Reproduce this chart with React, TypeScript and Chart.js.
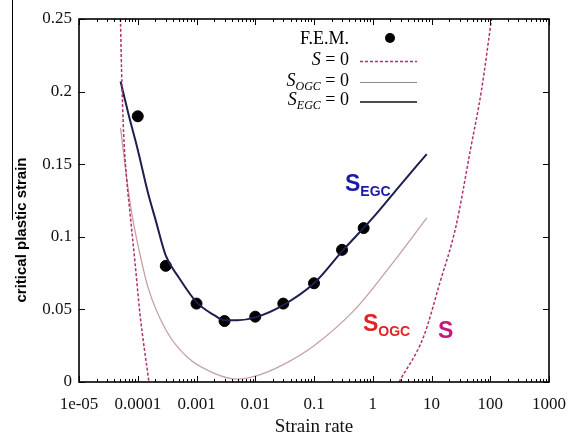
import React, { useEffect, useRef } from 'react';
import { Chart, registerables } from 'chart.js';
Chart.register(...registerables);

// ---- data ----
const xTickValues = [1e-5, 1e-4, 1e-3, 1e-2, 1e-1, 1, 10, 100, 1000];
const xTickLabels = ['1e-05', '0.0001', '0.001', '0.01', '0.1', '1', '10', '100', '1000'];
const yTickValues = [0, 0.05, 0.1, 0.15, 0.2, 0.25];
const yTickLabels = ['0', '0.05', '0.1', '0.15', '0.2', '0.25'];

const femRate = [1e-4, 3e-4, 1e-3, 3e-3, 1e-2, 3e-2, 0.1, 0.3, 0.7];
const femStrain = [0.183, 0.080, 0.054, 0.042, 0.045, 0.054, 0.068, 0.091, 0.106];

const sLeftRate = [5.08e-5, 5.3e-5, 5.75e-5, 6.5e-5, 7.4e-5, 9.0e-5, 1.09e-4, 1.55e-4];
const sLeftStrain = [0.25, 0.215, 0.171, 0.139, 0.116, 0.082, 0.047, 0.0];
const sRightRate = [2.8, 7.3, 13.8, 26, 46, 71, 105];
const sRightStrain = [0.0, 0.031, 0.068, 0.107, 0.160, 0.201, 0.25];

const ogcRate = [5.1e-5, 6.5e-5, 8e-5, 1e-4, 1.5e-4, 3e-4, 7e-4, 2e-3, 5e-3, 1e-2, 3e-2, 0.1, 0.5, 2, 8.3];
const ogcStrain = [0.175, 0.140, 0.115, 0.095, 0.065, 0.036, 0.017, 0.006, 0.002, 0.004, 0.012, 0.025, 0.050, 0.080, 0.113];

const egcRate = [5.1e-5, 7e-5, 1e-4, 1.5e-4, 2e-4, 3e-4, 5e-4, 1e-3, 2e-3, 3e-3, 5e-3, 1e-2, 3e-2, 0.1, 0.3, 1, 3, 8.3];
const egcStrain = [0.207, 0.184, 0.160, 0.130, 0.112, 0.087, 0.072, 0.055, 0.046, 0.0425, 0.0425, 0.0445, 0.053, 0.068, 0.090, 0.113, 0.136, 0.157];

const pts = (xs: number[], ys: number[]) => xs.map((x, i) => ({ x, y: ys[i] }));

const SERIF = '"Liberation Serif", "Times New Roman", serif';
const SANS = '"Liberation Sans", Arial, sans-serif';

const S_COLOR = '#b03070';
const OGC_COLOR = '#c4a2a2';
const EGC_COLOR = '#1e1e50';

function drawParts(ctx: CanvasRenderingContext2D, rightX: number, baseY: number, parts: { t: string; font: string; dy: number }[]) {
  let total = 0;
  for (const p of parts) { ctx.font = p.font; total += ctx.measureText(p.t).width; }
  let x = rightX - total;
  for (const p of parts) {
    ctx.font = p.font;
    ctx.fillText(p.t, x, baseY + p.dy);
    x += ctx.measureText(p.t).width;
  }
}

function drawLabel(ctx: CanvasRenderingContext2D, x: number, baseY: number, main: string, sub: string, color: string) {
  ctx.fillStyle = color;
  ctx.textAlign = 'left';
  ctx.textBaseline = 'alphabetic';
  ctx.font = `bold 23px ${SANS}`;
  ctx.fillText(main, x, baseY);
  const w = ctx.measureText(main).width;
  if (sub) {
    ctx.font = `bold 14px ${SANS}`;
    ctx.fillText(sub, x + w, baseY + 5);
  }
}

const overlay = {
  id: 'overlay',
  afterDraw(chart: any) {
    const { ctx, chartArea: a, scales } = chart;
    const xs = scales.x, ys = scales.y;
    ctx.save();
    // frame
    ctx.strokeStyle = '#000';
    ctx.lineWidth = 1.6;
    ctx.strokeRect(a.left, a.top, a.right - a.left, a.bottom - a.top);
    // ticks
    ctx.lineWidth = 1;
    ctx.beginPath();
    for (const v of xTickValues) {
      for (let m = 1; m < 10; m++) {
        const val = v * m;
        if (val > 1000) break;
        const px = Math.round(xs.getPixelForValue(val)) + 0.5;
        const len = m === 1 ? 6 : 3;
        ctx.moveTo(px, a.bottom); ctx.lineTo(px, a.bottom - len);
        ctx.moveTo(px, a.top); ctx.lineTo(px, a.top + len);
      }
    }
    for (const v of yTickValues) {
      const py = Math.round(ys.getPixelForValue(v)) + 0.5;
      ctx.moveTo(a.left, py); ctx.lineTo(a.left + 6, py);
      ctx.moveTo(a.right, py); ctx.lineTo(a.right - 6, py);
    }
    ctx.stroke();

    // y axis title
    ctx.save();
    ctx.translate(22, 230);
    ctx.rotate(-Math.PI / 2);
    ctx.fillStyle = '#000';
    ctx.font = `bold 15px ${SANS}`;
    ctx.textAlign = 'center';
    ctx.textBaseline = 'middle';
    ctx.fillText('critical plastic strain', 0, 0);
    ctx.restore();

    // legend
    ctx.fillStyle = '#000';
    ctx.textBaseline = 'alphabetic';
    ctx.textAlign = 'left';
    const nf = `18px ${SERIF}`;
    const itf = `italic 18px ${SERIF}`;
    const sf = `italic 12px ${SERIF}`;
    drawParts(ctx, 349, 44, [{ t: 'F.E.M.', font: nf, dy: 0 }]);
    drawParts(ctx, 349, 65, [{ t: 'S', font: itf, dy: 0 }, { t: ' = 0', font: nf, dy: 0 }]);
    drawParts(ctx, 349, 86, [{ t: 'S', font: itf, dy: 0 }, { t: 'OGC', font: sf, dy: 4 }, { t: ' = 0', font: nf, dy: 0 }]);
    drawParts(ctx, 349, 105, [{ t: 'S', font: itf, dy: 0 }, { t: 'EGC', font: sf, dy: 4 }, { t: ' = 0', font: nf, dy: 0 }]);
    // legend samples
    ctx.beginPath();
    ctx.arc(390, 38, 5, 0, Math.PI * 2);
    ctx.fill();
    ctx.lineWidth = 1.3;
    ctx.strokeStyle = S_COLOR;
    ctx.setLineDash([3, 2]);
    ctx.beginPath(); ctx.moveTo(360, 61.5); ctx.lineTo(417, 61.5); ctx.stroke();
    ctx.setLineDash([]);
    ctx.strokeStyle = '#8a8a8a';
    ctx.lineWidth = 1;
    ctx.beginPath(); ctx.moveTo(360, 82.5); ctx.lineTo(417, 82.5); ctx.stroke();
    ctx.strokeStyle = '#111';
    ctx.lineWidth = 1.6;
    ctx.beginPath(); ctx.moveTo(360, 102); ctx.lineTo(417, 102); ctx.stroke();

    // curve labels
    drawLabel(ctx, 345, 191, 'S', 'EGC', '#1a1aa6');
    drawLabel(ctx, 363, 331, 'S', 'OGC', '#e02424');
    drawLabel(ctx, 438, 338, 'S', '', '#c8187c');

    // cropped figure border at far left
    ctx.strokeStyle = '#000';
    ctx.lineWidth = 1;
    ctx.beginPath();
    ctx.moveTo(12.5, 0); ctx.lineTo(12.5, 220);
    ctx.stroke();
    ctx.restore();
  },
};

export default function App() {
  const ref = useRef<HTMLCanvasElement>(null);
  useEffect(() => {
    const lineDs = (label: string, data: any[], color: string, width: number, dash: number[]) => ({
      type: 'line' as const,
      label,
      data,
      borderColor: color,
      backgroundColor: color,
      borderWidth: width,
      borderDash: dash,
      pointRadius: 0,
      showLine: true,
      fill: false,
      cubicInterpolationMode: 'monotone' as const,
    });
    const chart = new Chart(ref.current!, {
      type: 'scatter',
      data: {
        datasets: [
          lineDs('S = 0', pts(sLeftRate, sLeftStrain), S_COLOR, 1.5, [3, 2]),
          lineDs('S = 0 (right)', pts(sRightRate, sRightStrain), S_COLOR, 1.5, [3, 2]),
          lineDs('S_OGC = 0', pts(ogcRate, ogcStrain), OGC_COLOR, 1.3, []),
          lineDs('S_EGC = 0', pts(egcRate, egcStrain), EGC_COLOR, 2, []),
          {
            label: 'F.E.M.',
            data: pts(femRate, femStrain),
            pointRadius: 5.5,
            pointBackgroundColor: '#000',
            pointBorderColor: '#000',
            showLine: false,
          } as any,
        ],
      },
      options: {
        responsive: false,
        animation: false,
        devicePixelRatio: 1,
        layout: { padding: { top: 19, right: 16, left: 0, bottom: 0 } },
        plugins: { legend: { display: false }, tooltip: { enabled: false }, title: { display: false } },
        scales: {
          x: {
            type: 'logarithmic',
            min: 1e-5,
            max: 1000,
            grid: { display: false, drawTicks: false },
            border: { display: false },
            afterBuildTicks: (s: any) => { s.ticks = xTickValues.map((v) => ({ value: v, major: true })); },
            afterFit: (s: any) => { s.height = 56; },
            ticks: {
              autoSkip: false,
              maxRotation: 0,
              padding: 12,
              color: '#111',
              font: { family: SERIF, size: 17 },
              callback: (v: any) => { const i = xTickValues.findIndex((t) => Math.abs(Math.log10(t) - Math.log10(Number(v))) < 1e-6); return i >= 0 ? xTickLabels[i] : ''; },
            },
            title: { display: true, text: 'Strain rate', color: '#111', font: { family: SERIF, size: 19, lineHeight: 1 }, padding: { top: 0, bottom: 1 } },
          },
          y: {
            type: 'linear',
            min: 0,
            max: 0.25,
            grid: { display: false, drawTicks: false },
            border: { display: false },
            afterBuildTicks: (s: any) => { s.ticks = yTickValues.map((v) => ({ value: v })); },
            afterFit: (s: any) => { s.width = 79; },
            ticks: {
              padding: 7,
              color: '#111',
              font: { family: SERIF, size: 17 },
              callback: (v: any) => { const i = yTickValues.findIndex((t) => Math.abs(t - Number(v)) < 1e-9); return i >= 0 ? yTickLabels[i] : ''; },
            },
          },
        },
      },
      plugins: [overlay],
    });
    return () => chart.destroy();
  }, []);
  return (
    <div style={{ position: 'fixed', left: 0, top: 0, width: 578, height: 438, background: '#fff' }}>
      <canvas ref={ref} width={578} height={438} style={{ width: 578, height: 438, display: 'block' }} />
    </div>
  );
}
